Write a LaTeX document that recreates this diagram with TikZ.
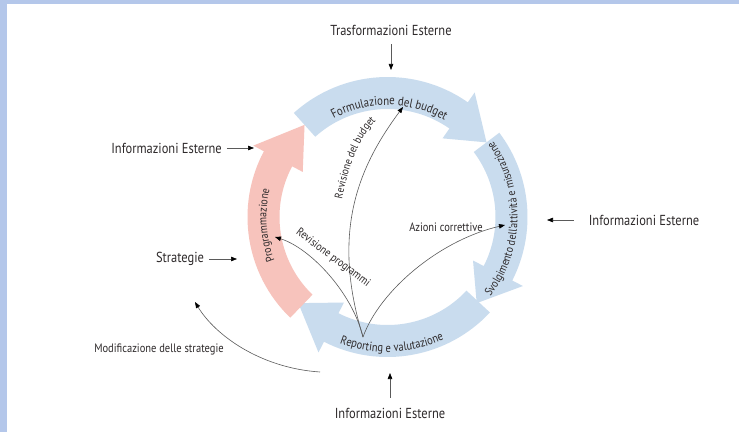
\documentclass[tikz,border=0pt]{standalone}
\usepackage{fontspec}
\setmainfont{PT Sans}[FakeStretch=0.86]
\usetikzlibrary{arrows.meta,decorations.text}
\definecolor{frameblue}{HTML}{B4C7EA}
\definecolor{bandblue}{HTML}{C9DCEE}
\definecolor{bandred}{HTML}{F7C3BC}
\definecolor{txt}{HTML}{2E2A2B}
\definecolor{ln}{HTML}{5A5A5A}
\tikzset{
  lbl/.style={text=txt,font=\fontsize{14.5}{16}\selectfont,inner sep=1pt},
  midlbl/.style={text=txt,font=\fontsize{11.5}{13}\selectfont,inner sep=1pt},
  smalllbl/.style={text=txt,font=\fontsize{12.2}{14}\selectfont,inner sep=1pt},
  conn/.style={draw=ln,line width=0.6pt,-{Triangle[length=6pt,width=4.5pt,black]}},
  arctext/.style={decorate,decoration={text along path,text align=center,text={#1}}},
}
\newcommand\cyclearrow[4]{% start, body end, tip, colour
  \fill[#4] (#1:140) arc[start angle=#1,end angle=#2,radius=140] -- (#2:152) -- (#3:124) -- (#2:96) -- (#2:108) arc[start angle=#2,end angle=#1,radius=108] -- cycle;}
\begin{document}
\begin{tikzpicture}[x=1pt,y=1pt]
\useasboundingbox (0,0) rectangle (739,432);
\fill[frameblue] (0,0) rectangle (739,432);
\fill[white] (7,0) rectangle (739,428);

\begin{scope}[shift={(387.5,215)}]
  \cyclearrow{132}{55}{37}{bandblue}
  \cyclearrow{37}{-27}{-44}{bandblue}
  \cyclearrow{-43}{-117}{-136}{bandblue}
  \cyclearrow{226}{152}{132}{bandred}
  \path[arctext={|\fontsize{12.6}{14}\selectfont\color{txt}|Formulazione del budget}]
    (140:112) arc[start angle=140,end angle=38,radius=112];
  \path[arctext={|\fontsize{11.6}{13}\selectfont\color{txt}|Svolgimento dell'attività e misurazione}]
    (-45:130) arc[start angle=-45,end angle=43,radius=130];
  \path[arctext={|\fontsize{12.2}{14}\selectfont\color{txt}|Reporting e valutazione}]
    (-130:135) arc[start angle=-130,end angle=-46,radius=135];
  \path[arctext={|\fontsize{11.6}{13}\selectfont\color{txt}|Programmazione}]
    (214:121) arc[start angle=214,end angle=154,radius=121];
\end{scope}

% external inputs
\node[lbl] (trasf) at (391,402) {Trasformazioni Esterne};
\coordinate (trasfEnd) at (391,362);
\draw[conn,shorten <=8pt] (trasf.south) -- (trasfEnd);

\node[lbl] (infoB) at (390,19) {Informazioni Esterne};
\coordinate (infoBEnd) at (390,59);
\draw[conn,shorten <=9pt] (infoB.north) -- (infoBEnd);

\node[lbl] (infoL) at (166.5,284) {Informazioni Esterne};
\coordinate (infoLEnd) at (254,284);
\draw[conn,shorten <=4pt] (infoL.east) -- (infoLEnd);

\node[lbl] (strat) at (180,173) {Strategie};
\coordinate (stratEnd) at (237,173);
\draw[conn,shorten <=4pt] (strat.east) -- (stratEnd);

\node[lbl] (infoR) at (644,212) {Informazioni Esterne};
\coordinate (infoREnd) at (547,212);
\draw[conn,shorten <=14pt] (infoR.west) -- (infoREnd);

% internal feedback arrows
\coordinate (hub) at (363,95);
\coordinate (budTip) at (403,325);
\coordinate (progTip) at (275,195);
\coordinate (azTip) at (505,207);
\coordinate (modStart) at (320,60);
\coordinate (modTip) at (195,130);

\draw[conn] (hub) .. controls (330,202) and (360,267) .. (budTip);
\draw[conn] (hub) .. controls (352,140) and (310,184) .. (progTip);
\draw[conn] (hub) .. controls (380,142) and (440,192) .. (azTip);
\draw[conn] (modStart) .. controls (260,64) and (215,97) .. (modTip);

\coordinate (revBudA) at (341,226);
\coordinate (revBudB) at (381,316);
\path[arctext={|\fontsize{11.2}{13}\selectfont\color{txt}|Revisione del budget}]
  (revBudA) .. controls (347,262) and (359,298) .. (revBudB);
\node[midlbl,rotate=-37] (revProg) at (333,174) {Revisione programmi};
\node[smalllbl] (azioni) at (446,205) {Azioni correttive};
\node[smalllbl] (modif) at (159,83) {Modificazione delle strategie};
\end{tikzpicture}
\end{document}
